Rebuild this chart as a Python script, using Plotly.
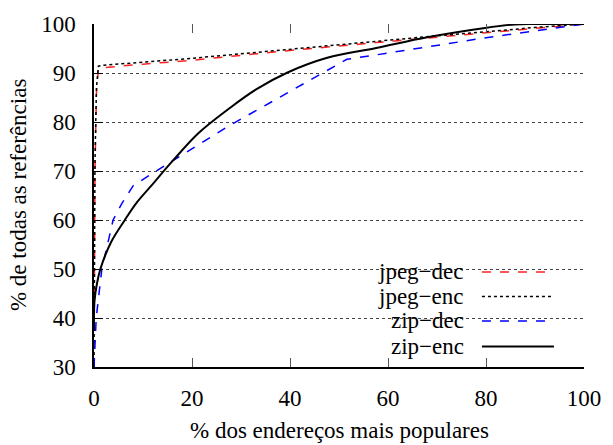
import plotly.graph_objects as go

# ---- data ----
jpeg_dec_x = [0, 0.05, 0.2, 0.5, 0.9, 2, 5, 10, 20, 27.5, 40, 57.6, 70, 80, 90, 100]
jpeg_dec_y = [30, 45, 70, 86, 90.9, 91.1, 91.4, 91.8, 92.6, 93.4, 94.6, 96.2, 97.3, 98.2, 99.1, 100]

jpeg_enc_x = [0, 0.05, 0.2, 0.5, 0.9, 2, 5, 10, 20, 27.5, 40, 57.6, 70, 80, 90, 100]
jpeg_enc_y = [30, 46, 72, 87, 91.4, 91.6, 91.8, 92.2, 93.0, 93.7, 94.9, 96.5, 97.6, 98.4, 99.3, 100]

zip_dec_x = [0, 0.45, 1.6, 3.9, 5.7, 8.0, 12.7, 21.4, 27.5, 34.8, 40.9, 51.6, 57.6, 80, 100]
zip_dec_y = [30, 40, 50, 60, 63.4, 67, 70, 75.4, 79.2, 83.3, 86.7, 92.8, 93.7, 97.2, 100]

zip_enc_x = [0, 0.1, 0.6, 1.3, 3.5, 6.3, 8.6, 11.7, 16, 21.4, 27.5, 33, 39.5, 47.6, 57.6, 68, 79.8, 85.8, 90, 100]
zip_enc_y = [38, 43.5, 47, 50, 55.5, 60, 63.4, 67, 72, 77.8, 82.7, 86.6, 90.1, 93.1, 95.1, 97.3, 99.2, 99.9, 100, 100]

x_ticks = [0, 20, 40, 60, 80, 100]
y_ticks = [30, 40, 50, 60, 70, 80, 90, 100]
legend_labels = ["jpeg\u2212dec", "jpeg\u2212enc", "zip\u2212dec", "zip\u2212enc"]
x_title = "% dos endereços mais populares"
y_title = "% de todas as referências"

FONT = "'Liberation Serif', 'Times New Roman', Times, 'DejaVu Serif', serif"
styles = [
    dict(color="#ff2020", width=1.5, dash="dash"),
    dict(color="#000000", width=1.5, dash="dot"),
    dict(color="#0000ff", width=1.5, dash="dash"),
    dict(color="#000000", width=2, dash="solid"),
]
shapes_kind = ["linear", "linear", "linear", "spline"]

fig = go.Figure()
series = [(jpeg_dec_x, jpeg_dec_y), (jpeg_enc_x, jpeg_enc_y),
          (zip_dec_x, zip_dec_y), (zip_enc_x, zip_enc_y)]
for (xs, ys), name, st, sk in zip(series, legend_labels, styles, shapes_kind):
    fig.add_trace(go.Scatter(x=xs, y=ys, mode="lines", name=name, line=st,
                             line_shape=sk, showlegend=False))

W, H = 613, 445
L, R, T, B = 93.5, 22.5, 17, 78
pw, ph = W - L - R, H - T - B

def px2paper(px, py):
    return (px - L) / pw, 1 - (py - T) / ph

shapes = []
annotations = []
# white legend box hiding gridlines
x0, y0 = px2paper(350, 358)
x1, y1 = px2paper(572, 255)
shapes.append(dict(type="rect", xref="paper", yref="paper", x0=x0, y0=y0, x1=x1, y1=y1,
                   fillcolor="white", line=dict(width=0), layer="between"))
row_y = [270, 295, 320, 346]
for lab, st, ry in zip(legend_labels, styles, row_y):
    tx, ty = px2paper(471, ry)
    annotations.append(dict(xref="paper", yref="paper", x=tx, y=ty, text=lab,
                            showarrow=False, xanchor="right", yanchor="middle",
                            font=dict(family=FONT, size=23, color="black")))
    sx0, sy = px2paper(487, ry)
    sx1, _ = px2paper(560, ry)
    shapes.append(dict(type="line", xref="paper", yref="paper", x0=sx0, x1=sx1, y0=sy, y1=sy,
                       line=st, layer="above"))

ax, ay = px2paper(342, 432)
annotations.append(dict(xref="paper", yref="paper", x=ax, y=ay, text=x_title, showarrow=False,
                        xanchor="center", yanchor="middle",
                        font=dict(family=FONT, size=23, color="black")))
bx, by = px2paper(17, 192)
annotations.append(dict(xref="paper", yref="paper", x=bx, y=by, text=y_title, showarrow=False,
                        xanchor="center", yanchor="middle", textangle=-90,
                        font=dict(family=FONT, size=23, color="black")))

fig.update_layout(
    width=W, height=H,
    margin=dict(l=L, r=R, t=T, b=B, pad=0),
    paper_bgcolor="white", plot_bgcolor="white",
    font=dict(family=FONT, size=23, color="black"),
    shapes=shapes, annotations=annotations,
    xaxis=dict(range=[0, 100], tickvals=x_ticks, ticks="inside", ticklen=9, tickwidth=1,
               tickcolor="#555", showline=True, linecolor="black", linewidth=1.5,
               showgrid=False, zeroline=False, ticklabelstandoff=10,
               tickfont=dict(family=FONT, size=23, color="black")),
    xaxis2=dict(range=[0, 100], overlaying="x", side="top", tickvals=x_ticks[1:],
                ticks="inside", ticklen=9, tickwidth=1, tickcolor="#555",
                showticklabels=False, showline=False, showgrid=False, zeroline=False),
    yaxis=dict(range=[30, 100], tickvals=y_ticks, ticks="inside", ticklen=9, tickwidth=1,
               tickcolor="black", showline=True, linecolor="black", linewidth=1.5,
               showgrid=True, gridcolor="#444", griddash="dot", gridwidth=1,
               zeroline=False, ticklabelstandoff=12,
               tickfont=dict(family=FONT, size=23, color="black")),
)
fig.add_trace(go.Scatter(x=[None], y=[None], xaxis="x2", showlegend=False, hoverinfo="skip"))

fig.write_html("out.html")
